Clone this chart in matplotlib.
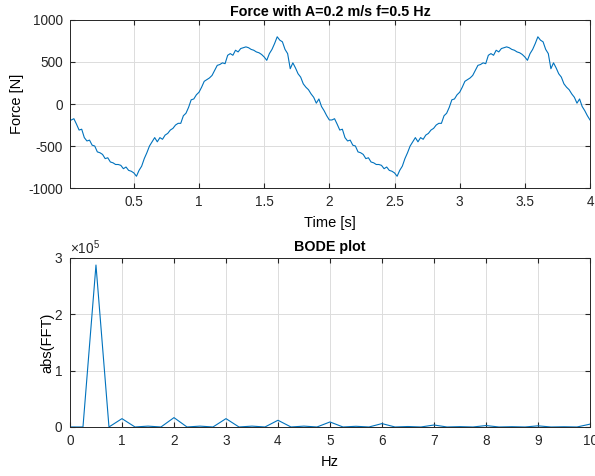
import numpy as np
import matplotlib
matplotlib.use("Agg")
import matplotlib.pyplot as plt
from matplotlib.ticker import ScalarFormatter

# force signal, one period (t = 0.02 .. 2.00 s, step 0.02)
force_period = [
    -190, -175, -240, -310, -300, -400, -440, -430, -490, -500,
    -570, -580, -600, -650, -640, -690, -700, -720, -720, -730,
    -770, -750, -790, -800, -820, -860, -790, -740, -650, -580,
    -500, -450, -400, -450, -400, -420, -370, -350, -310, -290,
    -250, -230, -230, -140, -110, -40, 50, 60, 110, 140,
    200, 270, 290, 310, 340, 400, 460, 470, 490, 480,
    580, 600, 580, 640, 620, 660, 670, 680, 670, 650,
    640, 620, 610, 590, 560, 520, 600, 650, 720, 800,
    760, 740, 650, 600, 420, 490, 430, 360, 320, 240,
    200, 170, 120, 80, 10, 60, -30, -80, -140, -190,
]
# the second period (2.02 .. 4.00 s) looks the same as the first
force = np.array(force_period + force_period)
time = np.arange(1, len(force) + 1) * 0.02

# fft magnitude, bins every 0.25 Hz from 0 to 10 Hz
freq = np.arange(0, 41) * 0.25
fft_abs = [
    0, 0, 287500, 0, 14800, 0, 1500, 0, 16600, 0,
    1500, 0, 14800, 0, 1500, 0, 11900, 0, 1500, 0,
    8900, 0, 1200, 0, 6000, 0, 800, 0, 3500, 0,
    600, 0, 2500, 0, 500, 0, 2000, 0, 400, 0, 5000,
]

blue = "#0072BD"
dark = "#262626"
plt.rcParams["font.family"] = ["Liberation Sans", "DejaVu Sans"]
plt.rcParams["mathtext.fontset"] = "custom"
plt.rcParams["mathtext.rm"] = "Liberation Sans"
plt.rcParams["axes.unicode_minus"] = False
plt.rcParams["font.size"] = 10

fig = plt.figure(figsize=(5.95, 4.76), dpi=100)
ax1 = fig.add_axes([0.1176, 0.605, 0.874, 0.353])
ax2 = fig.add_axes([0.1176, 0.103, 0.874, 0.355])

ax1.plot(time, force, color=blue, lw=0.8)
ax1.set_xlim(0.01, 4)
ax1.set_ylim(-1000, 1000)
ax1.set_xticks([0.5, 1, 1.5, 2, 2.5, 3, 3.5, 4])
ax1.set_xticklabels(["0.5", "1", "1.5", "2", "2.5", "3", "3.5", "4"])
ax1.set_yticks([-1000, -500, 0, 500, 1000])
ax1.set_title("Force with A=0.2 m/s f=0.5 Hz", fontsize=10.3, fontweight="bold", pad=3)
ax1.set_xlabel("Time [s]", fontsize=10.5, labelpad=5)
ax1.set_ylabel("Force [N]", fontsize=10.5, labelpad=3)

ax2.plot(freq, fft_abs, color=blue, lw=0.8)
ax2.set_xlim(0, 10)
ax2.set_ylim(0, 300000)
ax2.set_xticks(range(0, 11))
ax2.set_yticks([0, 100000, 200000, 300000])
fmt = ScalarFormatter(useMathText=True)
fmt.set_powerlimits((0, 0))
ax2.yaxis.set_major_formatter(fmt)
ax2.set_title("BODE plot", fontsize=10.3, fontweight="bold", pad=5)
ax2.set_xlabel("Hz", fontsize=10.5, labelpad=5)
ax2.set_ylabel("abs(FFT)", fontsize=10.5, labelpad=0)

for ax in (ax1, ax2):
    ax.grid(True, color="#dcdcdc", lw=0.7)
    ax.set_axisbelow(True)
    ax.tick_params(direction="in", top=True, right=True, length=3.5,
                   colors=dark, labelsize=9.8, pad=5)
    for s in ax.spines.values():
        s.set_color(dark)
        s.set_linewidth(0.7)
ax2.yaxis.get_offset_text().set_fontsize(9.8)
ax2.yaxis.get_offset_text().set_color(dark)

fig.savefig("out.png", dpi=100)
